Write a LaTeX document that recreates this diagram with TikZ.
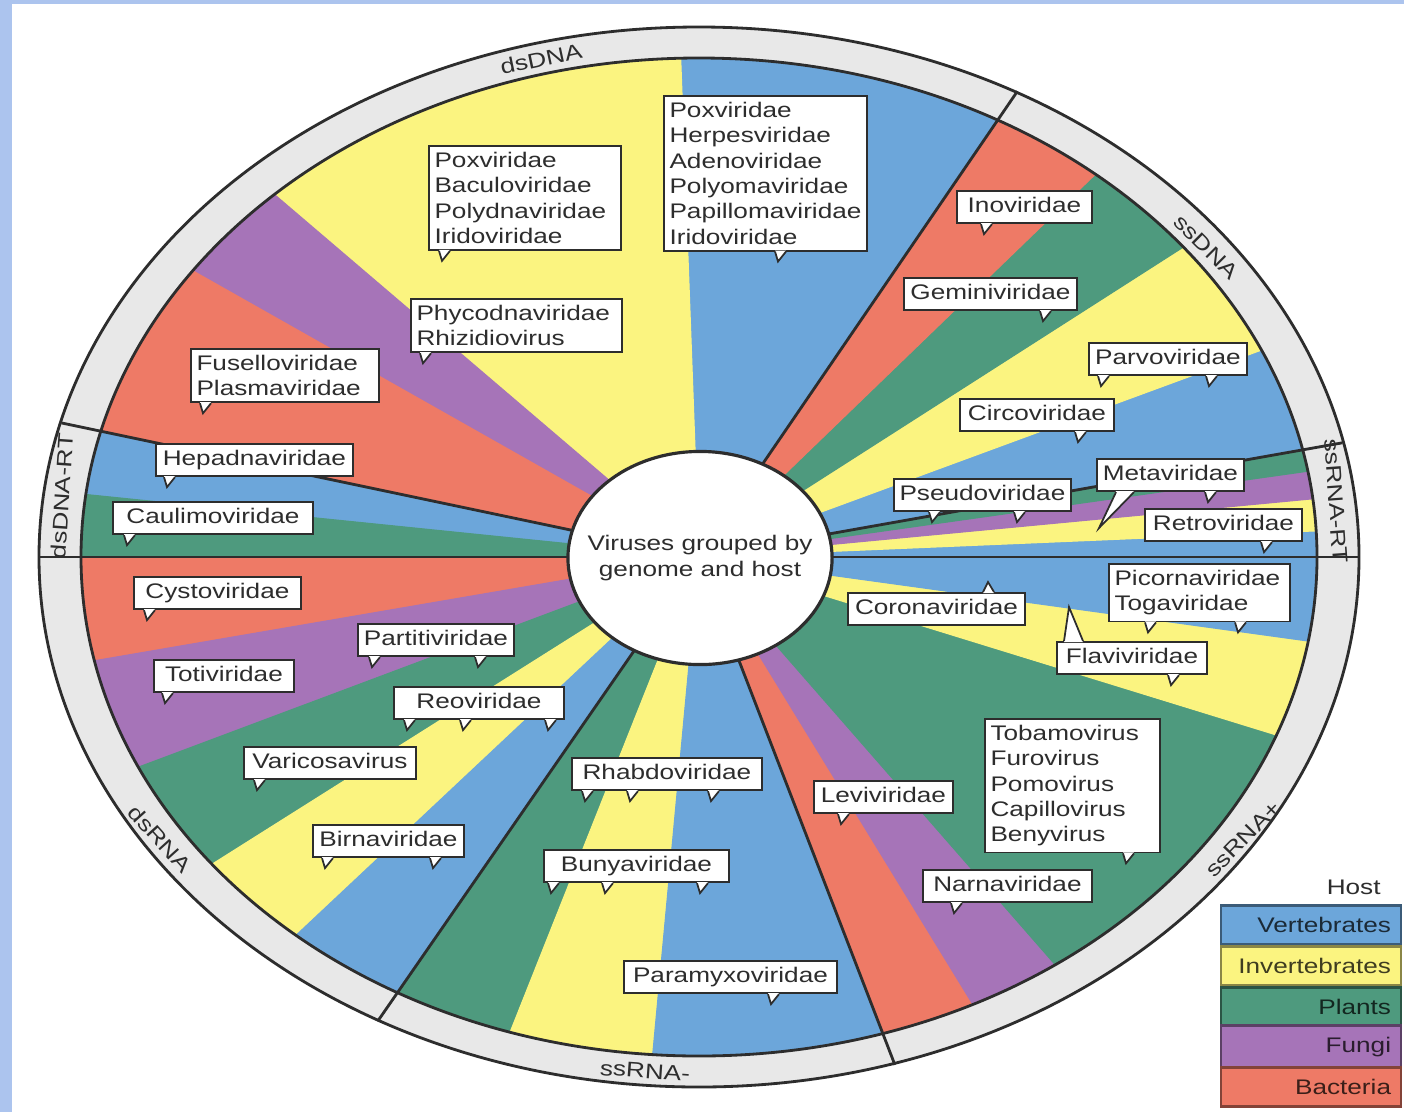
\documentclass[tikz,border=0pt]{standalone}
\usepackage{fontspec}
\setmainfont{Liberation Sans}[FakeStretch=1.24]
\usetikzlibrary{calc,shapes.geometric}
\definecolor{vertblue}{RGB}{108,166,218}
\definecolor{invyellow}{RGB}{251,244,128}
\definecolor{plantgreen}{RGB}{78,154,126}
\definecolor{fungpurple}{RGB}{166,116,184}
\definecolor{bactred}{RGB}{238,122,102}
\definecolor{ringgray}{RGB}{232,232,232}
\definecolor{framebl}{RGB}{172,196,238}
\definecolor{inkgray}{RGB}{45,45,45}
\newcommand{\tagfont}{\fontsize{6}{7.2}\selectfont}
\newcommand{\tail}[2]{%
  \fill[white] (#2,0 |- #1.south) ++(-3,-1) -- ++(3,11) -- ++(8,-11) -- cycle;
  \draw[inkgray,line width=0.5pt] (#2,0 |- #1.south) ++(-3,0) -- ++(3,10) -- ++(8,-10);}
\newcommand{\tailup}[2]{%
  \fill[white] (#2,0 |- #1.north) ++(-5,1) -- ++(5,-11) -- ++(6,11) -- cycle;
  \draw[inkgray,line width=0.5pt] (#2,0 |- #1.north) ++(-5,0) -- ++(5,-10) -- ++(6,10);}
\tikzset{
  famtag/.style={draw=inkgray,fill=white,line width=0.5pt,text=inkgray,font=\tagfont,
    inner xsep=1.6pt,inner ysep=1.7pt,text height=4.5pt,text depth=1.3pt,anchor=north west},
  famlist/.style={draw=inkgray,fill=white,line width=0.5pt,text=inkgray,font=\tagfont,
    inner xsep=1.6pt,inner ysep=1.8pt,align=left,anchor=north west},
  ringtxt/.style={font=\tagfont,text=inkgray,inner sep=0pt},
  grpline/.style={draw=inkgray,line width=0.8pt},
  keybox/.style={font=\tagfont,minimum height=0.33cm,text width=1.6cm,inner xsep=0.1cm,
    align=right,line width=0.8pt},
}

\begin{document}
\begin{tikzpicture}[x=0.01cm,y=-0.01cm]
        \useasboundingbox (0,0) rectangle (1404,1112);
        \fill[white] (0,0) rectangle (1404,1112);
        \fill[framebl] (0,0) rectangle (12,1112);
        \fill[framebl] (0,0) rectangle (1404,4);

        \draw[grpline,fill=ringgray] (699,557) ellipse [x radius=660,y radius=530];

        \begin{scope}[shift={(699,557)},xscale=618,yscale=-499]
        \foreach \a/\b/\c in {61.1/91.7/vertblue, 91.7/133.4/invyellow, 133.4/145/fungpurple,
            145/165.4/bactred, 165.4/172.8/vertblue, 172.8/180/plantgreen, 180/192/bactred,
            192/204.9/fungpurple, 204.9/218/plantgreen, 218/229.3/invyellow, 229.3/240.8/vertblue,
            240.8/252.2/plantgreen, 252.2/265.7/invyellow, 265.7/287.3/vertblue, 287.3/296.3/bactred,
            296.3/305.2/fungpurple, 305.2/339.1/plantgreen, 339.1/350.3/invyellow, 350.3/363/vertblue,
            3/6.7/invyellow, 6.7/9.9/fungpurple, 9.9/12.4/plantgreen, 12.4/24.5/vertblue,
            24.5/38.4/invyellow, 38.4/50.1/plantgreen, 50.1/61.1/bactred}
            \filldraw[fill=\c,draw=\c,line width=0.3pt] (0,0) -- (\a:1) arc[start angle=\a,end angle=\b,radius=1] -- cycle;
        \draw[grpline] (0,0) circle [radius=1];
        \foreach \g in {61.1,165.4,180,240.8,287.3,0,12.4}
            \draw[grpline] (0,0) -- (\g:1.066);
        \end{scope}

        \node[ellipse,draw=inkgray,line width=0.9pt,fill=white,minimum width=2.64cm,minimum height=2.13cm,
              inner sep=0pt] (hub) at (700,558) {};
        \node[align=center,font=\tagfont,text=inkgray] (hubtext) at (hub.center) {Viruses grouped by\\genome and host};

        \node[ringtxt,rotate=12] (rdsdna) at (541,59) {dsDNA};
        \node[ringtxt,rotate=-45] (rssdna) at (1206,247) {ssDNA};
        \node[ringtxt,rotate=-86] (rssrt) at (1336,501) {ssRNA-RT};
        \node[ringtxt,rotate=46] (rplus) at (1243,839) {ssRNA+};
        \node[ringtxt,rotate=-4] (rminus) at (645,1071) {ssRNA-};
        \node[ringtxt,rotate=-48] (rdsrna) at (160,839) {dsRNA};
        \node[ringtxt,rotate=86] (rdsrt) at (62,496) {dsDNA-RT};

        \node[famlist,text width=1.81cm] (poxinv) at (428,145) {Poxviridae\\Baculoviridae\\Polydnaviridae\\Iridoviridae};
        \node[famlist,text width=1.92cm] (poxvert) at (663,95) {Poxviridae\\Herpesviridae\\Adenoviridae\\Polyomaviridae\\Papillomaviridae\\Iridoviridae};
        \node[famlist,text width=2.00cm] (phyco) at (410,298) {Phycodnaviridae\\Rhizidiovirus};
        \node[famlist,text width=1.77cm] (fusel) at (190,348) {Fuselloviridae\\Plasmaviridae};
        \node[famtag,minimum width=1.97cm] (hepad) at (155,443) {Hepadnaviridae};
        \node[famtag,minimum width=2.00cm] (caulimo) at (112,501) {Caulimoviridae};
        \node[famtag,minimum width=1.67cm] (cysto) at (133,576) {Cystoviridae};
        \node[famtag,minimum width=1.56cm] (partiti) at (357,623) {Partitiviridae};
        \node[famtag,minimum width=1.40cm] (toti) at (153,659) {Totiviridae};
        \node[famtag,minimum width=1.70cm] (reo) at (393,686) {Reoviridae};
        \node[famtag,minimum width=1.72cm] (varicosa) at (243,746) {Varicosavirus};
        \node[famtag,minimum width=1.51cm] (birna) at (312,824) {Birnaviridae};
        \node[famtag,minimum width=1.90cm] (rhabdo) at (571,757) {Rhabdoviridae};
        \node[famtag,minimum width=1.85cm] (bunya) at (543,849) {Bunyaviridae};
        \node[famtag,minimum width=2.13cm] (paramyxo) at (623,960) {Paramyxoviridae};
        \node[famtag,minimum width=1.39cm] (levi) at (813,780) {Leviviridae};
        \node[famtag,minimum width=1.69cm] (narna) at (922,869) {Narnaviridae};
        \node[famlist,text width=1.64cm] (tobamo) at (984,718) {Tobamovirus\\Furovirus\\Pomovirus\\Capillovirus\\Benyvirus};
        \node[famtag,minimum width=1.77cm] (corona) at (847,592) {Coronaviridae};
        \node[famlist,text width=1.70cm] (picorna) at (1108,563) {Picornaviridae\\Togaviridae};
        \node[famtag,minimum width=1.50cm] (flavi) at (1056,641) {Flaviviridae};
        \node[famtag,minimum width=1.57cm] (retro) at (1144,508) {Retroviridae};
        \node[famtag,minimum width=1.47cm] (meta) at (1096,458) {Metaviridae};
        \node[famtag,minimum width=1.77cm] (pseudo) at (893,478) {Pseudoviridae};
        \node[famtag,minimum width=1.54cm] (circo) at (959,398) {Circoviridae};
        \node[famtag,minimum width=1.58cm] (parvo) at (1088,342) {Parvoviridae};
        \node[famtag,minimum width=1.73cm] (gemini) at (903,277) {Geminiviridae};
        \node[famtag,minimum width=1.35cm] (ino) at (956,190) {Inoviridae};

        \tail{poxinv}{442} \tail{poxvert}{778} \tail{phyco}{423} \tail{fusel}{203}
        \tail{hepad}{167} \tail{caulimo}{127} \tail{cysto}{147}
        \tail{partiti}{372} \tail{partiti}{478} \tail{toti}{165}
        \tail{reo}{407} \tail{reo}{463} \tail{reo}{548}
        \tail{varicosa}{257} \tail{birna}{325} \tail{birna}{433}
        \tail{rhabdo}{585} \tail{rhabdo}{630} \tail{rhabdo}{711}
        \tail{bunya}{551} \tail{bunya}{605} \tail{bunya}{700}
        \tail{paramyxo}{771} \tail{levi}{841} \tail{narna}{954} \tail{tobamo}{1126}
        \tail{picorna}{1148} \tail{picorna}{1238} \tail{flavi}{1171}
        \tail{retro}{1264} \tail{meta}{1208} \tail{pseudo}{932} \tail{pseudo}{1017}
        \tail{circo}{1078} \tail{parvo}{1101} \tail{parvo}{1209} \tail{gemini}{1043} \tail{ino}{984}
        \tailup{corona}{988}

        \coordinate (metatip) at (1099,528);
        \coordinate (flavitip) at (1069,607);
        \fill[white] ($(meta.south west)+(20,-1)$) -- (metatip) -- ($(meta.south west)+(38,-1)$) -- cycle;
        \draw[inkgray,line width=0.5pt] ($(meta.south west)+(20,0)$) -- (metatip) -- ($(meta.south west)+(38,0)$);
        \fill[white] ($(flavi.north west)+(8,1)$) -- (flavitip) -- ($(flavi.north west)+(27,1)$) -- cycle;
        \draw[inkgray,line width=0.5pt] ($(flavi.north west)+(8,0)$) -- (flavitip) -- ($(flavi.north west)+(27,0)$);

        \node[font=\tagfont,text=inkgray,anchor=east] (host) at (1393,887) {Host};
        \node[keybox,fill=vertblue,draw=vertblue!55!black,text=vertblue!25!black] (kvert) at (1311,925) {Vertebrates};
        \node[keybox,fill=invyellow,draw=invyellow!55!black,text=invyellow!25!black] (kinv) at (1311,966) {Invertebrates};
        \node[keybox,fill=plantgreen,draw=plantgreen!55!black,text=plantgreen!25!black] (kplant) at (1311,1007) {Plants};
        \node[keybox,fill=fungpurple,draw=fungpurple!55!black,text=fungpurple!25!black] (kfung) at (1311,1047) {Fungi};
        \node[keybox,fill=bactred,draw=bactred!55!black,text=bactred!25!black] (kbact) at (1311,1087) {Bacteria};
    \end{tikzpicture}
\end{document}
